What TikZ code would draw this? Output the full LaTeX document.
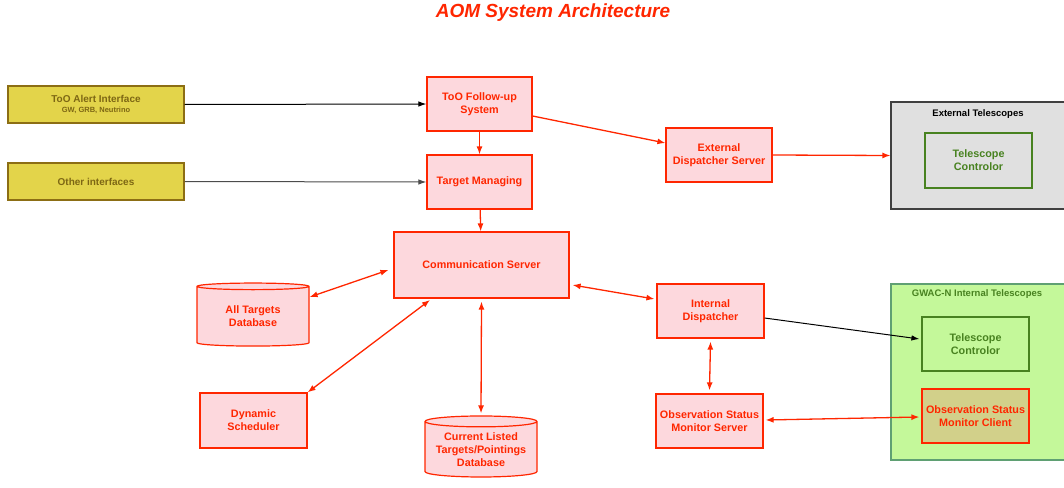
\documentclass[tikz,border=0pt]{standalone}
\usepackage{fontspec}
\setmainfont{Liberation Sans}
\usepackage{tikz}
\usetikzlibrary{arrows.meta,shapes.geometric}

\definecolor{aomred}{RGB}{255,38,0}
\definecolor{aompink}{RGB}{253,216,221}
\definecolor{ifyellow}{RGB}{227,212,74}
\definecolor{ifborder}{RGB}{140,110,20}
\definecolor{iftext}{RGB}{125,103,20}
\definecolor{extgrey}{RGB}{224,224,224}
\definecolor{intgreen}{RGB}{196,248,154}
\definecolor{intborder}{RGB}{95,160,115}
\definecolor{telgreen}{RGB}{72,130,32}
\definecolor{clientfill}{RGB}{210,208,138}

\tikzset{
  box/.style={draw=aomred, fill=aompink, line width=1.2pt, text=aomred,
    font=\fontsize{10.8}{12.8}\selectfont\bfseries, align=center,
    inner sep=0pt, minimum width=#1},
  box/.default=105pt,
  iface/.style={draw=ifborder, fill=ifyellow, line width=1.2pt, text=iftext,
    font=\fontsize{10}{12}\selectfont\bfseries, align=center,
    minimum width=176pt, minimum height=37pt, inner sep=0pt},
  dbase/.style={cylinder, shape border rotate=90, aspect=0.12, draw=aomred,
    fill=aompink, line width=1.2pt, text=aomred, align=center,
    font=\fontsize{10.8}{12.8}\selectfont\bfseries, inner sep=0pt},
  group/.style={draw, line width=1.2pt, inner sep=0pt},
  telbox/.style={draw=telgreen, line width=1.2pt, text=telgreen,
    font=\fontsize{10.8}{12.8}\selectfont\bfseries, align=center,
    minimum width=107pt, minimum height=55pt, inner sep=0pt},
  redarr/.style={draw=aomred, line width=1.3pt, -{Latex[length=8pt,width=6pt]}},
  redboth/.style={draw=aomred, line width=1.3pt,
    {Latex[length=8pt,width=6pt]}-{Latex[length=8pt,width=6pt]}},
  blackarr/.style={draw=black, line width=1pt, -{Latex[length=8pt,width=5.5pt]}},
}

\begin{document}
\begin{tikzpicture}[x=1pt,y=-1pt]
  \useasboundingbox (0,0) rectangle (1064,487);

  \node[text=aomred, font=\fontsize{19}{22}\selectfont\bfseries\itshape]
    (title) at (553,13) {AOM System Architecture};

  % groups
  \node[group, draw=black!75, fill=extgrey, minimum width=175pt, minimum height=107pt]
    (extgrp) at (978.5,155.5) {};
  \node[font=\fontsize{9.5}{11}\selectfont\bfseries, anchor=north]
    (extlabel) at (978,106) {External Telescopes};
  \node[group, draw=intborder, fill=intgreen, minimum width=175pt, minimum height=176pt]
    (intgrp) at (978.5,372) {};
  \node[font=\fontsize{9.5}{11}\selectfont\bfseries, text=telgreen, anchor=north]
    (intlabel) at (977,286) {GWAC-N Internal Telescopes};

  \node[iface] (alert) at (96,104.5)
    {ToO Alert Interface\\[-2pt]{\fontsize{7.5}{9}\selectfont GW, GRB, Neutrino}};
  \node[iface] (other) at (96,181.5) {Other interfaces};

  \node[box, minimum height=54pt] (follow) at (479.5,104) {ToO Follow-up\\System};
  \node[box, minimum height=54pt] (manage) at (479.5,182) {Target Managing};
  \node[box=175pt, minimum height=66pt] (comm) at (481.5,265) {Communication Server};
  \node[box=106pt, minimum height=54pt] (extdisp) at (719,155) {External\\Dispatcher Server};
  \node[telbox] (extctl) at (978.5,160.5) {Telescope\\Controlor};

  \node[dbase, minimum width=112pt, minimum height=63pt] (alldb) at (253,316.5)
    {All Targets\\Database};
  \node[box=107pt, minimum height=55pt] (dyn) at (253.5,420.5) {Dynamic\\Scheduler};
  \node[dbase, minimum width=112pt, minimum height=61pt] (curdb) at (481,449.5)
    {Current Listed\\Targets/Pointings\\Database};

  \node[box=107pt, minimum height=54pt] (intdisp) at (710.5,311) {Internal\\Dispatcher};
  \node[box=107pt, minimum height=54pt] (osms) at (709.5,421)
    {Observation Status\\Monitor Server};
  \node[telbox, minimum height=54pt] (intctl) at (975.5,344) {Telescope\\Controlor};
  \node[box=107pt, minimum height=54pt, fill=clientfill] (osmc) at (975.5,416)
    {Observation Status\\Monitor Client};

  \draw[blackarr] (alert.east) -- (follow.west);
  \draw[blackarr, draw=black!70] (other.east) -- (manage.west);
  \draw[redarr] (follow) -- (manage);
  \draw[redarr] (manage) -- (comm);
  \draw[redarr] (follow.east |- 0,116) -- (extdisp.west |- 0,143);
  \draw[redarr] (extdisp.east) -- (extgrp.west);
  \draw[redboth] ([xshift=-5pt]comm.west |- 0,270) -- (alldb.east |- 0,297);
  \draw[redboth] (430,300) coordinate (cs) -- (dyn.north east) ;
  \draw[redboth] ([yshift=-3pt]comm.south) -- ([yshift=2pt]curdb.north);
  \draw[redboth] ([xshift=3pt]comm.east |- 0,285) -- ([xshift=-2pt]intdisp.west |- 0,299);
  \draw[redboth] ([yshift=-3pt]intdisp.south) -- ([yshift=3pt]osms.north);
  \draw[blackarr] (intdisp.east |- 0,318) -- ([xshift=-2pt]intctl.west |- 0,339);
  \draw[redboth] ([xshift=2pt]osms.east |- 0,420) -- ([xshift=-2pt]osmc.west |- 0,417);
\end{tikzpicture}
\end{document}
